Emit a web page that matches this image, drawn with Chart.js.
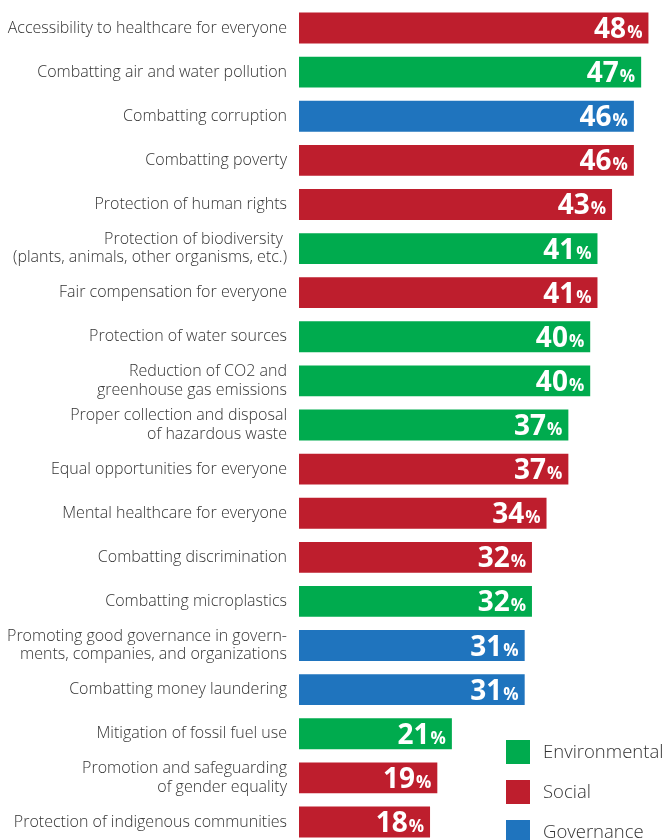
<!DOCTYPE html>
<html>
<head>
<meta charset="utf-8">
<script src="https://cdn.jsdelivr.net/npm/chart.js@4"></script>
<style>
  html, body { margin: 0; padding: 0; background: #fff; overflow: hidden; }
  #wrap { position: relative; width: 666px; height: 846px; }
</style>
</head>
<body>
<div id="wrap"><canvas id="barChart"></canvas></div>
<script>
// Topics, share of respondents (%) and ESG group of each topic
const topics = [
  'Accessibility to healthcare for everyone',
  'Combatting air and water pollution',
  'Combatting corruption',
  'Combatting poverty',
  'Protection of human rights',
  ['Protection of biodiversity ', '(plants, animals, other organisms, etc.)'],
  'Fair compensation for everyone',
  'Protection of water sources',
  ['Reduction of CO2 and', 'greenhouse gas emissions'],
  ['Proper collection and disposal', 'of hazardous waste'],
  'Equal opportunities for everyone',
  'Mental healthcare for everyone',
  'Combatting discrimination',
  'Combatting microplastics',
  ['Promoting good governance in govern-', 'ments, companies, and organizations'],
  'Combatting money laundering',
  'Mitigation of fossil fuel use',
  ['Promotion and safeguarding', 'of gender equality'],
  'Protection of indigenous communities'
];
const shares = [48, 47, 46, 46, 43, 41, 41, 40, 40, 37, 37, 34, 32, 32, 31, 31, 21, 19, 18];
const groupOf = ['S', 'E', 'G', 'S', 'S', 'E', 'S', 'E', 'E', 'E', 'S', 'S', 'S', 'E', 'G', 'G', 'E', 'S', 'S'];

const groupNames = ['Environmental', 'Social', 'Governance'];
const groupKeys = ['E', 'S', 'G'];
const groupColors = { E: '#00AB4E', S: '#BE1E2D', G: '#1F74BE' };

// white value label inside the end of each bar: big number + small "%"
const valueLabels = {
  id: 'valueLabels',
  afterDatasetsDraw(chart) {
    const ctx = chart.ctx;
    const meta = chart.getDatasetMeta(0);
    ctx.save();
    ctx.fillStyle = '#fff';
    ctx.textBaseline = 'alphabetic';
    ctx.textAlign = 'right';
    meta.data.forEach((bar, i) => {
      const right = bar.x - 6;
      const base = bar.y + 10;
      ctx.font = 'bold 17px "Open Sans"';
      const pw = ctx.measureText('%').width;
      ctx.fillText('%', right, base);
      ctx.font = 'bold 28px "Open Sans"';
      ctx.fillText(String(shares[i]), right - pw - 1, base);
    });
    ctx.restore();
  }
};

// square legend in the lower right corner
const cornerLegend = {
  id: 'cornerLegend',
  afterDraw(chart) {
    const ctx = chart.ctx;
    ctx.save();
    ctx.font = '300 18.5px "Open Sans"';
    ctx.textBaseline = 'middle';
    ctx.textAlign = 'left';
    groupNames.forEach((name, i) => {
      const y = 740 + i * 40;
      ctx.fillStyle = groupColors[groupKeys[i]];
      ctx.fillRect(506, y, 24, 24);
      ctx.fillStyle = '#333';
      ctx.fillText(name, 543, y + 13);
    });
    ctx.restore();
  }
};

const ctxBar = document.getElementById('barChart').getContext('2d');
const barChart = new Chart(ctxBar, {
  type: 'bar',
  data: {
    labels: topics,
    datasets: [{
      data: shares,
      backgroundColor: groupOf.map(g => groupColors[g]),
      barPercentage: 0.7,
      categoryPercentage: 1
    }]
  },
  options: {
    indexAxis: 'y',
    responsive: true,
    maintainAspectRatio: false,
    animation: false,
    layout: { padding: { top: 6, right: 3, bottom: 2, left: 0 } },
    plugins: {
      legend: { display: false },
      tooltip: { enabled: false }
    },
    scales: {
      x: {
        display: false,
        min: 0,
        max: 50
      },
      y: {
        grid: { display: false, drawTicks: false },
        border: { display: false },
        ticks: {
          color: '#333',
          padding: 12,
          font: { family: '"Open Sans"', size: 16, weight: 300, lineHeight: 1.15 }
        },
        afterFit(scale) {
          scale.width = 299;
          scale.paddingTop = 0;
          scale.paddingBottom = 0;
        }
      }
    }
  },
  plugins: [valueLabels, cornerLegend]
});
</script>
</body>
</html>
